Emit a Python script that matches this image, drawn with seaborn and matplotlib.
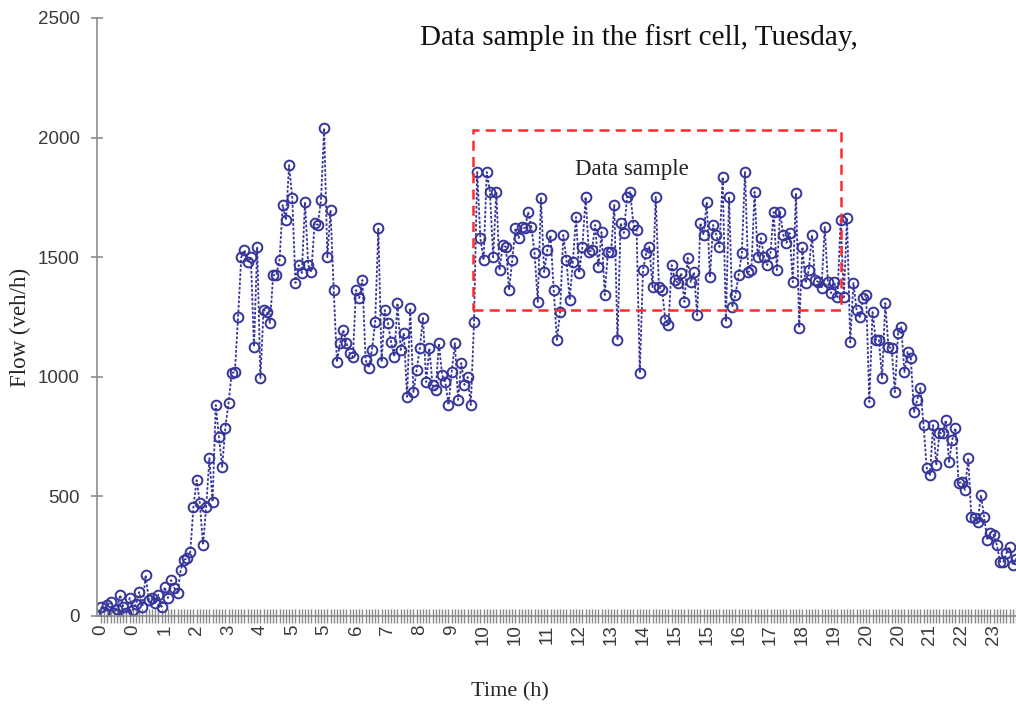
import numpy as np
import pandas as pd
import seaborn as sns
import matplotlib.pyplot as plt
from matplotlib.patches import Rectangle

# 5-minute flow samples (veh/h), one day
flow_night_morning = [39, 18, 45, 60, 13, 30, 88, 38, 13, 75, 25, 50, 100, 38,
                      171, 67, 75, 54, 88, 38, 121, 75, 150, 117, 96, 192, 234,
                      242, 267, 456, 568, 472, 297, 456, 660, 477, 882, 748,
                      623, 786, 890, 1016, 1020, 1250, 1500, 1530, 1480, 1500,
                      1125, 1543, 995, 1280, 1271, 1225, 1425, 1425, 1488, 1718,
                      1655, 1885, 1747, 1392, 1467, 1434, 1731, 1467, 1438,
                      1643, 1635, 1739, 2040, 1500]
flow_midday = [1697, 1363, 1062, 1141, 1196, 1141, 1100, 1083, 1363, 1329, 1405,
               1070, 1037, 1112, 1229, 1622, 1062, 1279, 1225, 1145, 1083,
               1308, 1112, 1183, 916, 1288, 936, 1028, 1120, 1246, 978,
               1120, 966, 945, 1141, 1007, 978, 882, 1020, 1141, 903,
               1058, 966, 999, 882, 1229, 1856, 1580, 1488, 1856, 1773,
               1500, 1773, 1446, 1551, 1543, 1363, 1488, 1622, 1580, 1626,
               1622, 1689, 1626, 1517, 1313, 1747, 1438, 1530, 1593, 1363, 1154]
flow_afternoon = [1271, 1593, 1488, 1321, 1480, 1668, 1434, 1543, 1752, 1522,
                  1530, 1635, 1459, 1605, 1342, 1522, 1522, 1718, 1154, 1643,
                  1601, 1752, 1773, 1635, 1614, 1016, 1446, 1517, 1543, 1375,
                  1752, 1375, 1363, 1237, 1217, 1467, 1405, 1392, 1434, 1313,
                  1497, 1396, 1438, 1258, 1643, 1593, 1731, 1417, 1635, 1593,
                  1543, 1835, 1229, 1752, 1292, 1342, 1425, 1517, 1856, 1438,
                  1446, 1773, 1500, 1580, 1500, 1467, 1517, 1689, 1446, 1689, 1593]
flow_evening = [1560, 1601, 1396, 1768, 1204, 1543, 1392, 1446, 1593, 1405,
                1396, 1371, 1626, 1396, 1350, 1396, 1333, 1655, 1333, 1664,
                1145, 1392, 1279, 1250, 1329, 1342, 895, 1271, 1154, 1154,
                995, 1308, 1124, 1120, 936, 1183, 1208, 1020, 1104, 1079,
                853, 903, 953, 798, 619, 589, 798, 631, 765, 765,
                819, 644, 736, 786, 556, 560, 527, 660, 414, 410,
                393, 506, 414, 318, 347, 339, 297, 226, 226, 263, 288, 213, 240]

# labels shown every 10 samples (hour of the day)
hour_labels = ['0', '0', '1', '2', '3', '4', '5', '5', '6', '7', '8', '9', '10',
               '10', '11', '12', '13', '14', '15', '15', '16', '17', '18', '19',
               '20', '20', '21', '22', '23']

# red dashed "data sample" window (sample index, flow)
box_x0, box_x1 = 116.8, 232.0
box_y0, box_y1 = 1279, 2032

flow = flow_night_morning + flow_midday + flow_afternoon + flow_evening
df = pd.DataFrame({'sample': np.arange(len(flow)), 'flow': flow})

sns.set_style('white')
plt.rcParams['font.family'] = ['Liberation Sans', 'DejaVu Sans']

fig = plt.figure(figsize=(10.16, 7.04), dpi=100)
ax = fig.add_axes([97 / 1016, 88 / 704, 919 / 1016, 598 / 704])

navy = '#36369a'
sns.lineplot(data=df, x='sample', y='flow', ax=ax, color=navy,
             linestyle=(0, (1.5, 1)), linewidth=1.3, marker='o',
             markersize=7, markerfacecolor='none', markeredgecolor=navy,
             markeredgewidth=1.4)

ax.add_patch(Rectangle((box_x0, box_y0), box_x1 - box_x0, box_y1 - box_y0,
                       fill=False, edgecolor='#ff2a2a', linewidth=1.8,
                       linestyle=(0, (4, 2.5)), zorder=4))
ax.text((box_x0 + box_x1) / 2 - 8, 1865, 'Data sample', ha='center', va='center',
        fontsize=16.5, family='Liberation Serif', color='#222222')

ax.set_xlim(-1.25, 285.2)
ax.set_ylim(0, 2500)
ax.set_yticks(np.arange(0, 2501, 500))
ax.set_xticks(np.arange(0, 10 * len(hour_labels), 10))
ax.set_xticklabels(hour_labels, rotation=90)
ax.set_xticks(np.arange(0, len(flow)), minor=True)

for side in ['top', 'right']:
    ax.spines[side].set_visible(False)
for side in ['left', 'bottom']:
    ax.spines[side].set_color('#8c8c8c')
    ax.spines[side].set_linewidth(1.2)

ax.tick_params(axis='y', which='major', left=True, direction='inout', length=9,
               width=1.2, color='#8c8c8c', labelsize=13.5, labelcolor='#3a3a3a',
               pad=8)
ax.tick_params(axis='x', which='both', bottom=True, direction='inout', length=10,
               width=1.0, color='#8a8a8a', labelsize=13.5, labelcolor='#3a3a3a',
               pad=1)

ax.set_xlabel('Time (h)', fontsize=16, family='Liberation Serif')
ax.set_ylabel('Flow (veh/h)', fontsize=16.5, family='Liberation Serif')
ax.xaxis.set_label_coords((510 - 97) / 919, -(682 - 616) / 598)
ax.yaxis.set_label_coords(-(97 - 31) / 919, (616 - 327) / 598)

fig.text(639 / 1016, 1 - 38 / 704, 'Data sample in the fisrt cell, Tuesday,',
         ha='center', va='center', fontsize=21, family='Liberation Serif',
         color='#111111')

fig.savefig('out.png', dpi=100)
